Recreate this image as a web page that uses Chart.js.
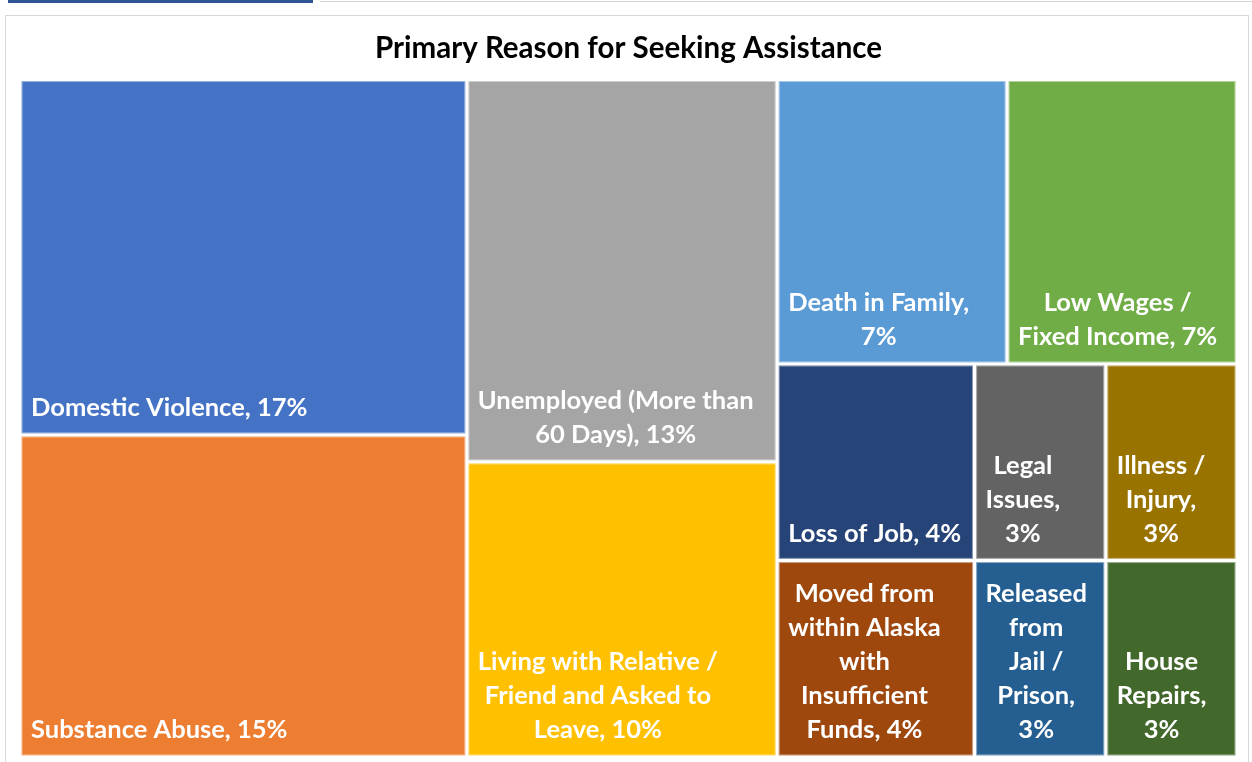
<!DOCTYPE html>
<html>
<head>
<meta charset="utf-8">
<script src="https://cdn.jsdelivr.net/npm/chart.js@4"></script>
<style>
  html, body { margin: 0; padding: 0; background: #fff; overflow: hidden; }
  .tabBlue { position: absolute; left: 8px; top: 0; width: 305px; height: 3px; background: #2F5597; }
  .tabLine { position: absolute; left: 320px; top: 0; width: 932px; height: 1px; border-bottom: 1px solid #d4d4d4; }
  .card { position: absolute; left: 5px; top: 15px; width: 1244px; height: 760px; border: 1px solid #d9d9d9; box-sizing: border-box; }
  .TreemapWrapper { position: absolute; left: 0; top: 0; width: 1252px; height: 762px; }
</style>
</head>
<body>
<div class="tabBlue"></div>
<div class="tabLine"></div>
<div class="card"></div>
<div class="TreemapWrapper"><canvas id="TreemapPlot" width="1252" height="762"></canvas></div>
<script>
const categories = [
    'Domestic Violence',
    'Substance Abuse',
    'Unemployed (More than 60 Days)',
    'Living with Relative / Friend and Asked to Leave',
    'Death in Family',
    'Low Wages / Fixed Income',
    'Loss of Job',
    'Moved from within Alaska with Insufficient Funds',
    'Legal Issues',
    'Illness / Injury',
    'Released from Jail / Prison',
    'House Repairs'
]
const shares = [17.0, 15.4, 12.7, 9.8, 7.0, 7.0, 4.15, 4.15, 2.76, 2.76, 2.76, 2.76]
const colors = ['#4472C4', '#ED7D31', '#A5A5A5', '#FFC000', '#5B9BD5', '#70AD47',
                '#264478', '#9E480E', '#636363', '#997300', '#255E91', '#43682B']

const labelFont = 'bold 25.5px Lato'

// squarified layout, rect given in units where both sides are in the same measure
const worst = (row, side) => {
    const s = row.reduce((a, it) => a + it.a, 0)
    let w = 0
    row.forEach(it => {
        w = Math.max(w, side * side * it.a / (s * s), (s * s) / (side * side * it.a))
    })
    return w
}

const squarify = (vals, rect) => {
    const total = vals.reduce((a, v) => a + v, 0)
    let items = vals.map((v, i) => ({a: v / total * rect.w * rect.h, i}))
    const out = []
    let r = {...rect}
    while (items.length) {
        const side = Math.min(r.w, r.h)
        let row = [items[0]]
        let k = 1
        while (k < items.length) {
            const next = row.concat(items[k])
            if (worst(next, side) <= worst(row, side)) { row = next; k++ } else break
        }
        const rowArea = row.reduce((a, it) => a + it.a, 0)
        if (r.w >= r.h) {
            const cw = rowArea / r.h
            let y = r.y
            row.forEach(it => { const hh = it.a / cw; out[it.i] = {x: r.x, y, w: cw, h: hh}; y += hh })
            r = {x: r.x + cw, y: r.y, w: r.w - cw, h: r.h}
        } else {
            const rh = rowArea / r.w
            let x = r.x
            row.forEach(it => { const ww = it.a / rh; out[it.i] = {x, y: r.y, w: ww, h: rh}; x += ww })
            r = {x: r.x, y: r.y + rh, w: r.w, h: r.h - rh}
        }
        items = items.slice(k)
    }
    return out
}

// greedy wrap; no line break allowed before a lone "/"
const wrapText = (ctx, text, maxW) => {
    const words = []
    text.split(' ').forEach(w => {
        if (w === '/' && words.length) words[words.length - 1] += ' /'
        else words.push(w)
    })
    const lines = []
    let cur = ''
    words.forEach(w => {
        const test = cur ? cur + ' ' + w : w
        if (cur && ctx.measureText(test).width > maxW) { lines.push(cur); cur = w } else cur = test
    })
    if (cur) lines.push(cur)
    return lines
}

const treemapPlugin = {
    id: 'treemapCells',
    beforeDatasetsDraw(chart) {
        const {ctx, chartArea, scales: {x, y}} = chart
        const aspect = chartArea.width / chartArea.height
        // layout in (aspect x 1) units, then back to the 0..1 data range of each scale
        const cells = squarify(shares, {x: 0, y: 0, w: aspect, h: 1})
        ctx.save()
        cells.forEach((c, i) => {
            const left = x.getPixelForValue(c.x / aspect)
            const right = x.getPixelForValue((c.x + c.w) / aspect)
            const top = y.getPixelForValue(c.y)
            const bottom = y.getPixelForValue(c.y + c.h)
            const gap = 1.6
            ctx.fillStyle = colors[i]
            ctx.fillRect(left + gap, top + gap, right - left - 2 * gap, bottom - top - 2 * gap)
            ctx.strokeStyle = 'rgba(255,255,255,0.45)'
            ctx.lineWidth = 1
            ctx.strokeRect(left + gap + 0.5, top + gap + 0.5, right - left - 2 * gap - 1, bottom - top - 2 * gap - 1)

            ctx.font = labelFont
            ctx.fillStyle = '#ffffff'
            ctx.textBaseline = 'middle'
            ctx.textAlign = 'center'
            const text = categories[i] + ', ' + Math.round(shares[i]) + '%'
            const lines = wrapText(ctx, text, right - left - 22)
            const blockW = Math.max(...lines.map(l => ctx.measureText(l).width))
            const cx = left + 11 + blockW / 2
            lines.forEach((l, j) => {
                ctx.fillText(l, cx, bottom - 27 - (lines.length - 1 - j) * 34)
            })
        })
        ctx.restore()
    }
}

new Chart(document.getElementById('TreemapPlot'), {
    type: 'scatter',
    data: {
        datasets: [{ data: [] }]
    },
    options: {
        responsive: false,
        animation: false,
        devicePixelRatio: 1,
        layout: { padding: { left: 20, right: 15, top: 0, bottom: 5 } },
        scales: {
            x: { type: 'linear', min: 0, max: 1, display: false },
            y: { type: 'linear', min: 0, max: 1, reverse: true, display: false }
        },
        plugins: {
            legend: { display: false },
            tooltip: { enabled: false },
            title: {
                display: true,
                text: 'Primary Reason for Seeking Assistance',
                color: '#000000',
                font: { family: 'Lato', size: 29.5, weight: 'bold' },
                padding: { top: 31, bottom: 13 }
            }
        }
    },
    plugins: [treemapPlugin]
})
</script>
</body>
</html>
